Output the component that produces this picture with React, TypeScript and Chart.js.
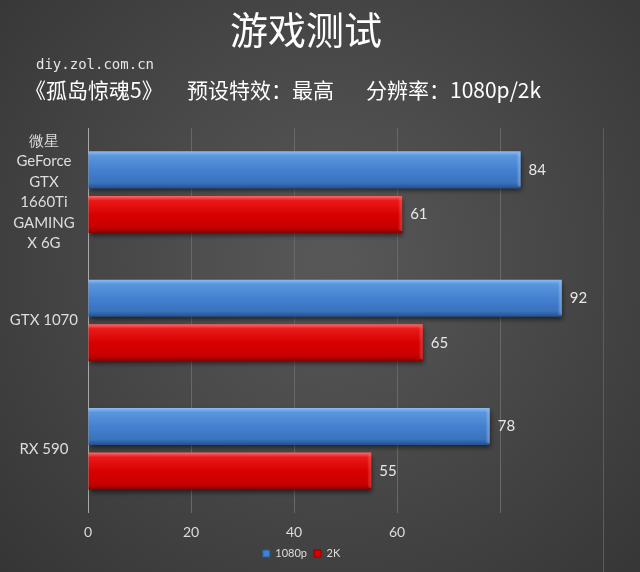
import React, { useEffect, useRef } from "react";
import { Chart, registerables } from "chart.js";

Chart.register(...registerables);

const categories: (string | string[])[] = [
  ["微星", "GeForce", "GTX", "1660Ti", "GAMING", "X 6G"],
  "GTX 1070",
  "RX 590",
];
const series1080p = [84, 92, 78];
const series2k = [61, 65, 55];
const seriesNames = ["1080p", "2K"];
const xTickLabels = [0, 20, 40, 60];
const titleText = "游戏测试";
const sourceText = "diy.zol.com.cn";
const subtitleParts = ["《孤岛惊魂5》", "预设特效：最高", "分辨率：1080p/2k"];

const LATIN = "Lato, 'Noto Sans', sans-serif";
const CJK = "'Noto Sans CJK SC', 'Noto Sans', sans-serif";

function barGradient(ctx: CanvasRenderingContext2D, top: number, bottom: number, blue: boolean) {
  const g = ctx.createLinearGradient(0, top, 0, bottom);
  if (blue) {
    g.addColorStop(0, "#8dbdf3");
    g.addColorStop(0.12, "#5b95dc");
    g.addColorStop(0.5, "#4381d0");
    g.addColorStop(0.85, "#3a72bd");
    g.addColorStop(1, "#24508c");
  } else {
    g.addColorStop(0, "#ff6a6a");
    g.addColorStop(0.12, "#ea1a1a");
    g.addColorStop(0.5, "#d80000");
    g.addColorStop(0.85, "#c80000");
    g.addColorStop(1, "#850000");
  }
  return g;
}

const decorPlugin = {
  id: "decor",
  beforeDraw(chart: any) {
    const { ctx, width, height } = chart;
    ctx.save();
    const g = ctx.createRadialGradient(330, 260, 20, 330, 260, 470);
    g.addColorStop(0, "#575757");
    g.addColorStop(1, "#343434");
    ctx.fillStyle = g;
    ctx.fillRect(0, 0, width, height);
    ctx.fillStyle = "#ffffff";
    ctx.textBaseline = "middle";
    ctx.textAlign = "center";
    ctx.font = `400 38px ${CJK}`;
    ctx.fillText(titleText, 306, 30);
    ctx.textAlign = "left";
    ctx.fillStyle = "#e6e6e6";
    ctx.font = `14px 'DejaVu Sans Mono', monospace`;
    ctx.fillText(sourceText, 36, 65);
    ctx.fillStyle = "#ffffff";
    ctx.font = `21px ${CJK}`;
    const xs = [25, 187, 366];
    subtitleParts.forEach((t, i) => ctx.fillText(t, xs[i], 90));
    const xs100 = chart.scales.x.getPixelForValue(100);
    ctx.strokeStyle = "#5c5c5c";
    ctx.lineWidth = 1;
    ctx.beginPath();
    ctx.moveTo(Math.round(xs100) + 0.5, chart.chartArea.top);
    ctx.lineTo(Math.round(xs100) + 0.5, height);
    ctx.stroke();
    ctx.restore();
  },
  beforeDatasetsDraw(chart: any) {
    const { ctx } = chart;
    chart.data.datasets.forEach((ds: any, di: number) => {
      const meta = chart.getDatasetMeta(di);
      meta.data.forEach((el: any) => {
        const half = el.height / 2;
        el.options.backgroundColor = barGradient(ctx, el.y - half, el.y + half, di === 0);
      });
    });
    ctx.save();
    ctx.shadowColor = "rgba(0,0,0,0.55)";
    ctx.shadowBlur = 5;
    ctx.shadowOffsetX = 1;
    ctx.shadowOffsetY = 3;
  },
  afterDatasetsDraw(chart: any) {
    const { ctx } = chart;
    ctx.restore();
    ctx.save();
    // right-end bevel
    chart.data.datasets.forEach((ds: any, di: number) => {
      const meta = chart.getDatasetMeta(di);
      meta.data.forEach((el: any) => {
        const half = el.height / 2;
        const g = ctx.createLinearGradient(el.x - 4, 0, el.x, 0);
        g.addColorStop(0, "rgba(255,255,255,0)");
        g.addColorStop(1, di === 0 ? "rgba(170,205,245,0.45)" : "rgba(255,120,120,0.35)");
        ctx.fillStyle = g;
        ctx.fillRect(el.x - 4, el.y - half + 2, 4, el.height - 4);
      });
    });
    ctx.fillStyle = "#e8e8e8";
    ctx.font = `15px ${LATIN}`;
    ctx.textBaseline = "middle";
    ctx.textAlign = "left";
    chart.data.datasets.forEach((ds: any, di: number) => {
      const meta = chart.getDatasetMeta(di);
      meta.data.forEach((el: any, i: number) => {
        ctx.fillText(String(ds.data[i]), el.x + 8, el.y);
      });
    });
    ctx.restore();
  },
};

export default function App() {
  const ref = useRef<HTMLCanvasElement>(null);
  useEffect(() => {
    if (!ref.current) return;
    const chart = new Chart(ref.current, {
      type: "bar",
      data: {
        labels: categories,
        datasets: [
          {
            label: seriesNames[0],
            data: series1080p,
            backgroundColor: () => "#4381d0",
            borderWidth: 0,
            categoryPercentage: 0.695,
            barPercentage: 0.83,
          },
          {
            label: seriesNames[1],
            data: series2k,
            backgroundColor: () => "#d80000",
            borderWidth: 0,
            categoryPercentage: 0.695,
            barPercentage: 0.83,
          },
        ],
      },
      options: {
        indexAxis: "y",
        responsive: false,
        animation: false,
        layout: { padding: { top: 128, right: 37, left: 0, bottom: 3 } },
        plugins: {
          title: { display: false },
          tooltip: { enabled: false },
          legend: {
            display: true,
            position: "bottom",
            labels: {
              boxWidth: 7,
              boxHeight: 7,
              padding: 7,
              color: "#dddddd",
              font: { size: 11, family: LATIN },
              generateLabels: () => [
                { text: seriesNames[0], fillStyle: "#4381d0", strokeStyle: "#2a5a96", lineWidth: 1, fontColor: "#dddddd", datasetIndex: 0 } as any,
                { text: seriesNames[1], fillStyle: "#d80000", strokeStyle: "#8a0000", lineWidth: 1, fontColor: "#dddddd", datasetIndex: 1 } as any,
              ],
            },
          },
        },
        scales: {
          x: {
            min: 0,
            max: 100,
            ticks: {
              stepSize: 20,
              color: "#dddddd",
              font: { size: 14, family: LATIN },
              padding: 11,
              callback: (v: any) => (xTickLabels.includes(Number(v)) ? String(v) : ""),
            },
            grid: {
              drawTicks: false,
              color: (c: any) => (c.tick && c.tick.value === 0 ? "#a8a8a8" : c.tick && c.tick.value === 100 ? "rgba(0,0,0,0)" : "#686868"),
              lineWidth: 1,
            },
            border: { display: false },
            afterFit: (s: any) => {
              s.height = 28;
            },
          },
          y: {
            grid: { display: false, drawTicks: false },
            border: { display: false },
            ticks: {
              color: "#dddddd",
              font: { size: 15, family: LATIN, lineHeight: 1.36 },
              crossAlign: "center",
              padding: 10,
            },
            afterFit: (s: any) => {
              s.width = 88;
              s.paddingTop = 0;
              s.paddingBottom = 0;
            },
          },
        },
      },
      plugins: [decorPlugin],
    });
    return () => chart.destroy();
  }, []);
  return (
    <div style={{ position: "fixed", left: 0, top: 0, width: 640, height: 572 }}>
      <canvas ref={ref} width={640} height={572} style={{ display: "block" }} />
    </div>
  );
}
